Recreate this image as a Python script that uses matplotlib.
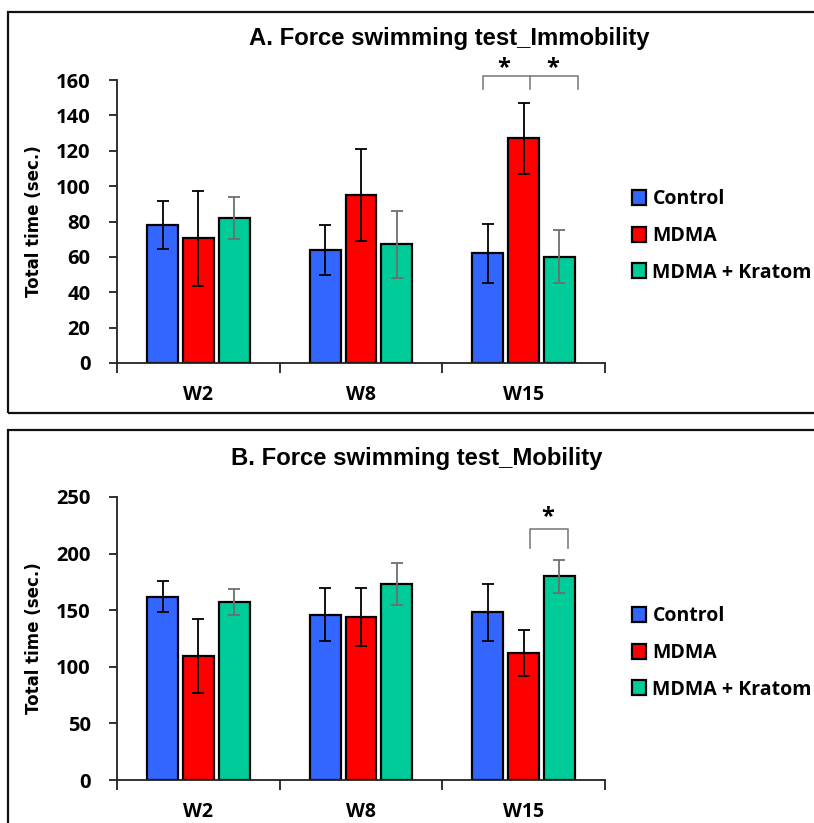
import numpy as np
import matplotlib
matplotlib.use("Agg")
import matplotlib.pyplot as plt
from matplotlib.patches import Rectangle

plt.rcParams['font.family'] = ['Open Sans', 'DejaVu Sans']
plt.rcParams['font.weight'] = 'bold'

weeks = ['W2', 'W8', 'W15']
groups = ['Control', 'MDMA', 'MDMA + Kratom']
colores = ['#3366FF', '#FF0000', '#00CC99']
err_colores = ['black', 'black', '#6E6E6E']

# A. immobility (sec.)
inm_control = [78, 64, 62]
inm_mdma = [70.5, 95, 127]
inm_kratom = [82, 67, 60]
inm_err_control = [13.5, 14, 16.5]
inm_err_mdma = [27, 26, 20]
inm_err_kratom = [12, 19, 15]

# B. mobility (sec.)
mov_control = [162, 146, 148]
mov_mdma = [109.5, 144, 112]
mov_kratom = [157, 173, 180]
mov_err_control = [13.5, 23.5, 25]
mov_err_mdma = [33, 26, 20.5]
mov_err_kratom = [11.5, 18.5, 14.5]

titulo_fuente = ['Liberation Sans', 'DejaVu Sans']

W, H = 814, 823
fig = plt.figure(figsize=(W / 100, H / 100), dpi=100)


def px(x, y):
    return x / W, 1 - y / H


def panel(zero_px, ymax, ystep, valores, errores, titulo, titulo_xy, leg_y):
    l, b = px(117, zero_px)
    ax = fig.add_axes([l, b, 488 / W, 283 / H])
    x = np.arange(len(weeks))
    ancho = 0.19
    paso = 0.22
    for i in range(3):
        ax.bar(x + (i - 1) * paso, valores[i], ancho, color=colores[i],
               edgecolor='black', linewidth=1.6, label=groups[i], zorder=2)
        ax.errorbar(x + (i - 1) * paso, valores[i], yerr=errores[i], fmt='none',
                    ecolor=err_colores[i], elinewidth=1.3, capsize=4, capthick=1.3, zorder=3)
    ax.set_xlim(-0.5, 2.5)
    ax.set_ylim(0, ymax)
    ax.set_yticks(np.arange(0, ymax + 1, ystep))
    ax.set_xticks([-0.5, 0.5, 1.5, 2.5])
    ax.set_xticklabels([])
    ax.set_xticks(x, minor=True)
    ax.set_xticklabels(weeks, minor=True, fontsize=14, fontweight='bold')
    ax.tick_params(axis='x', which='minor', length=0, pad=16)
    ax.tick_params(axis='x', which='major', length=7, width=1.3, direction='out', color='#222222')
    ax.tick_params(axis='y', length=6, width=1.3, pad=13, labelsize=14.5, color='#222222')
    for t in ax.get_yticklabels():
        t.set_fontweight('bold')
    for s in ['top', 'right']:
        ax.spines[s].set_visible(False)
    for s in ['left', 'bottom']:
        ax.spines[s].set_linewidth(1.3)
        ax.spines[s].set_color('#222222')
    ax.set_ylabel('Total time (sec.)', fontsize=12, fontweight='bold',
                  family=['DejaVu Sans'])
    ax.yaxis.set_label_coords(-0.152, 0.5)
    fig.text(*px(*titulo_xy), titulo, ha='center', va='center', fontsize=17.2,
             fontweight='bold', family=titulo_fuente)
    ax.legend(loc='center left', bbox_to_anchor=px(632, leg_y), bbox_transform=fig.transFigure,
              frameon=False, fontsize=14, handlelength=0.7, handleheight=0.8,
              handletextpad=0.35, labelspacing=0.85, borderpad=0, borderaxespad=0)
    return ax


axA = panel(363, 160, 20, [inm_control, inm_mdma, inm_kratom],
            [inm_err_control, inm_err_mdma, inm_err_kratom],
            'A. Force swimming test_Immobility', (449, 38), 236)
axB = panel(780, 250, 50, [mov_control, mov_mdma, mov_kratom],
            [mov_err_control, mov_err_mdma, mov_err_kratom],
            'B. Force swimming test_Mobility', (417, 458), 653)

gris = '#7F7F7F'
# brackets A
axA.plot([1.75, 1.75, 2.335, 2.335], [155, 162, 162, 155], color=gris, lw=1.2, clip_on=False)
axA.plot([2.04, 2.04], [162, 155], color=gris, lw=1.2, clip_on=False)
axA.text(1.88, 167, '*', ha='center', va='center', fontsize=17, clip_on=False)
axA.text(2.18, 167, '*', ha='center', va='center', fontsize=17, clip_on=False)
# bracket B
axB.plot([2.04, 2.04, 2.27, 2.27], [205, 221.7, 221.7, 205], color=gris, lw=1.2, clip_on=False)
axB.text(2.15, 232, '*', ha='center', va='center', fontsize=17, clip_on=False)

# panel frames
for y0, y1 in [(12.5, 413.5), (429.5, 840)]:
    fig.add_artist(Rectangle(px(8, y1), 900 / W, (y1 - y0) / H, transform=fig.transFigure,
                             fill=False, edgecolor='#111111', linewidth=1.6))

fig.savefig('out.png', dpi=100)
